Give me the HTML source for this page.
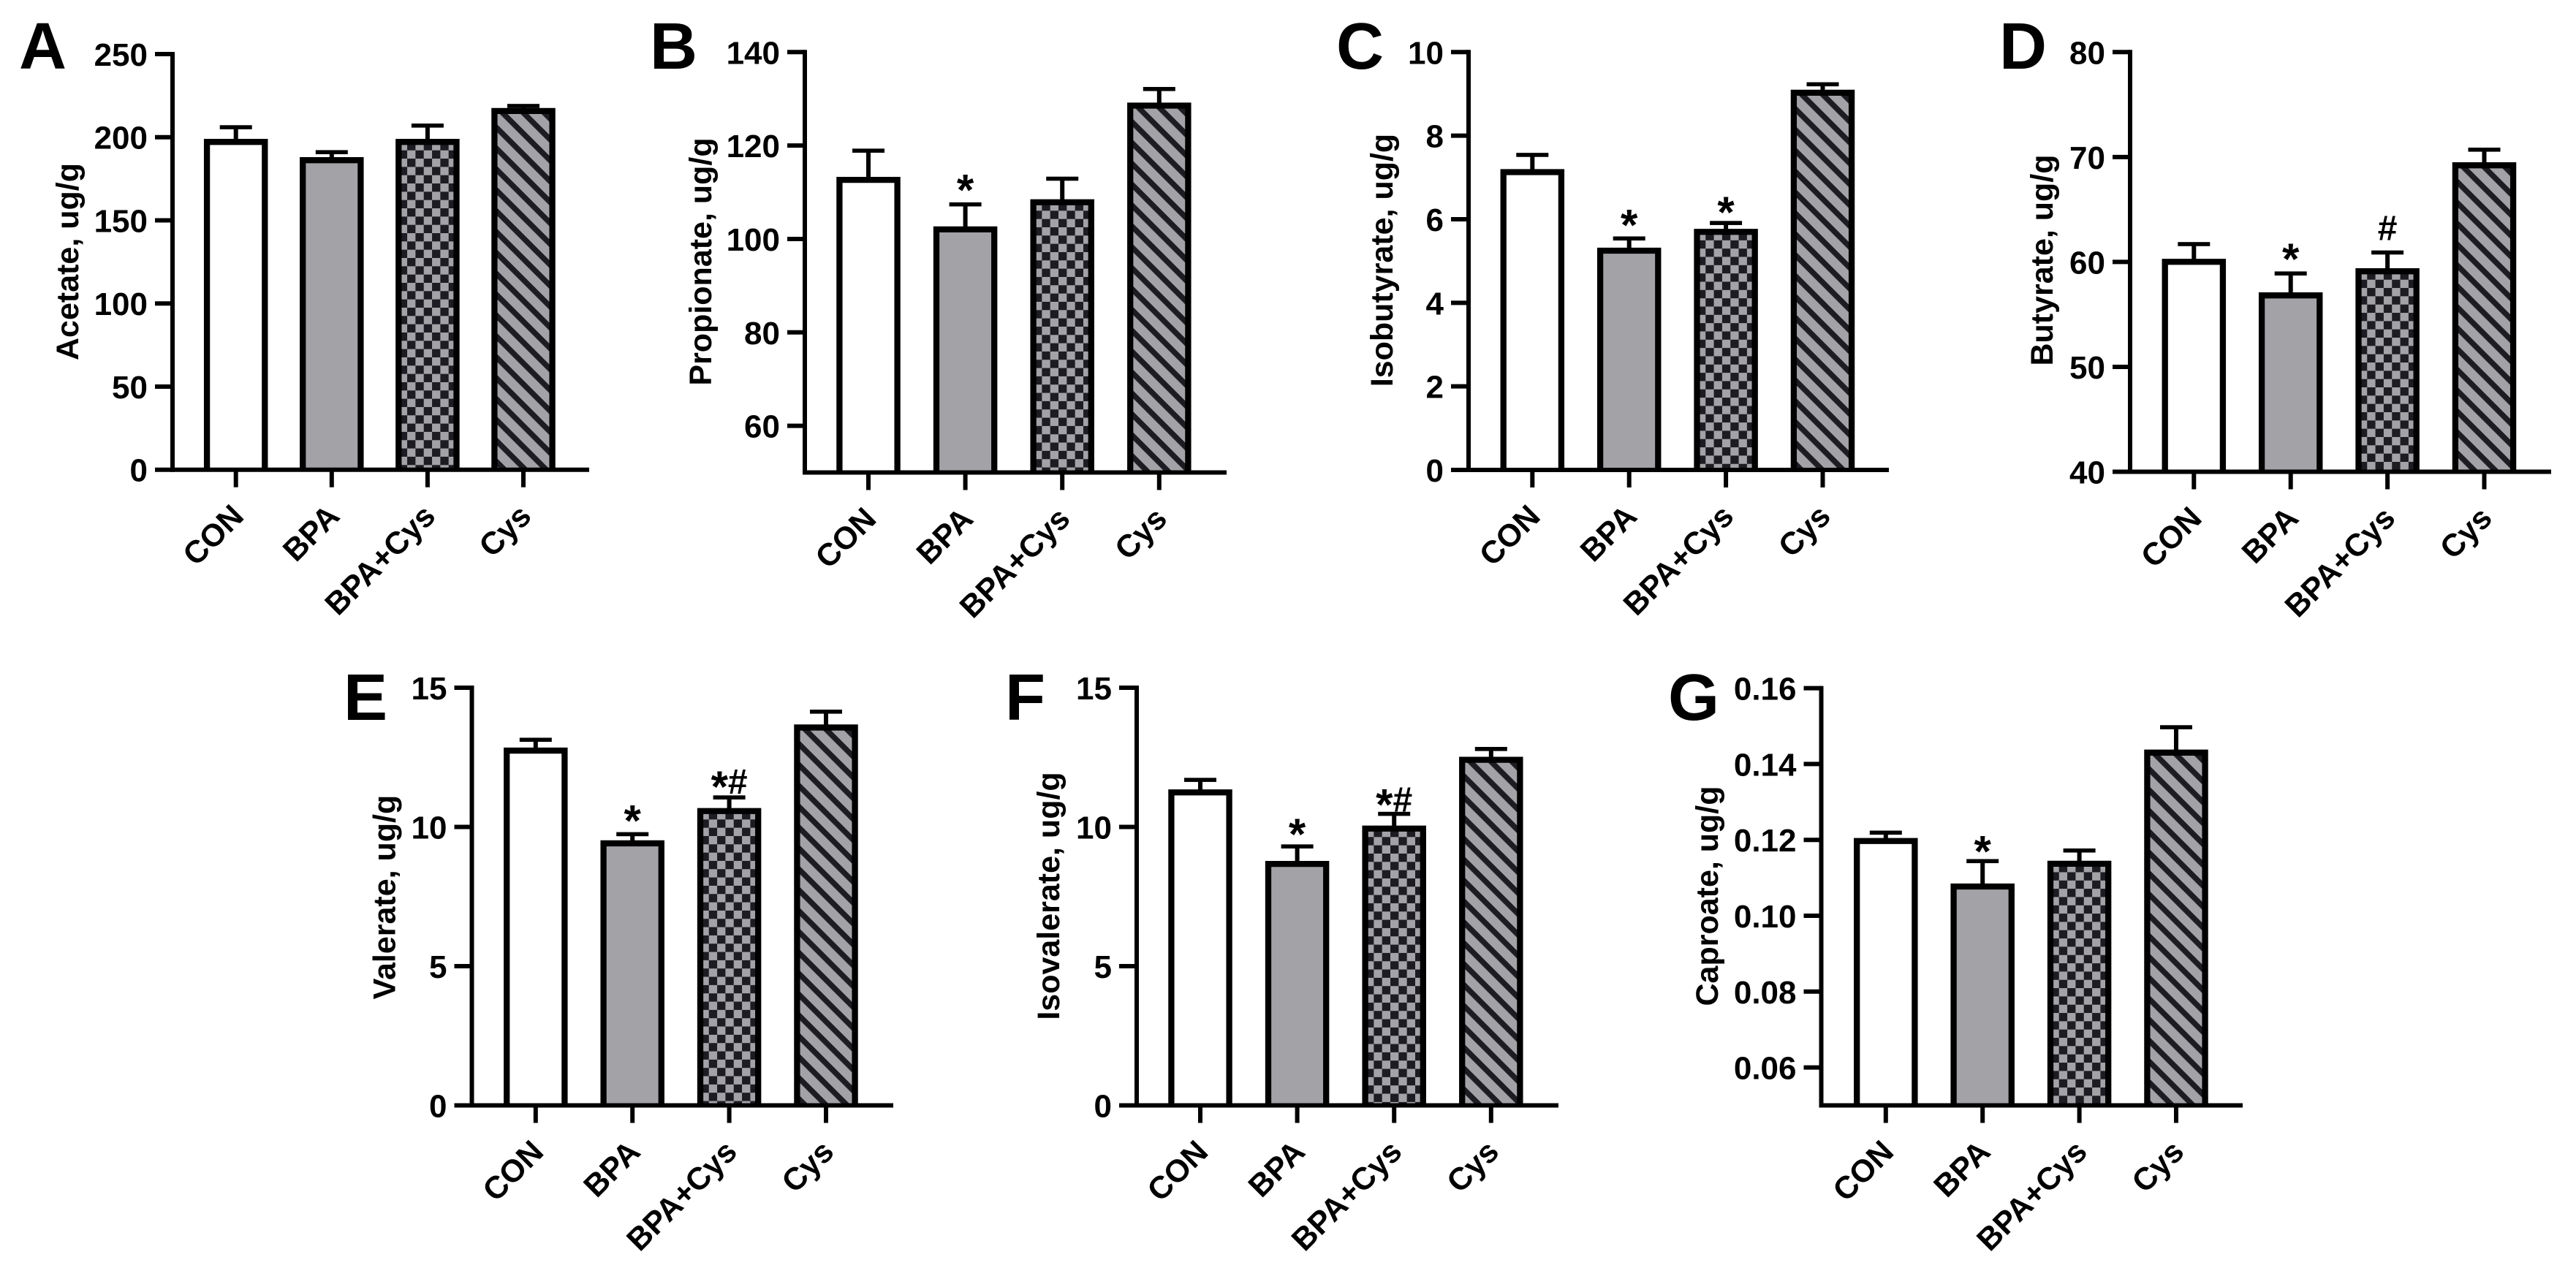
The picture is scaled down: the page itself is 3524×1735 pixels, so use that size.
<!DOCTYPE html>
<html lang="en">
<head>
<meta charset="utf-8">
<title>Short-chain fatty acid bar charts</title>
<style>
html,body{margin:0;padding:0;background:#fff;}
svg{display:block;}
text{font-family:"Liberation Sans",Arial,sans-serif;font-weight:bold;fill:#000;}
</style>
</head>
<body>
<svg id="figure" xmlns="http://www.w3.org/2000/svg" width="3524" height="1735" viewBox="0 0 3524 1735">
<rect x="0" y="0" width="3524" height="1735" fill="#ffffff"></rect>
</svg>
<script>
const categories = ['CON', 'BPA', 'BPA+Cys', 'Cys'];

const acetateMeans = [199, 188, 199, 217.6];
const acetateErrors = [7, 3, 8, 1.2];
const acetateTicks = ['0', '50', '100', '150', '200', '250'];
const acetateMarks = ['', '', '', ''];

const propionateMeans = [113.3, 102.7, 108.5, 129.2];
const propionateErrors = [5.6, 4.7, 4.4, 2.9];
const propionateTicks = ['60', '80', '100', '120', '140'];
const propionateMarks = ['', '*', '', ''];

const isobutyrateMeans = [7.2, 5.32, 5.77, 9.1];
const isobutyrateErrors = [0.34, 0.22, 0.14, 0.13];
const isobutyrateTicks = ['0', '2', '4', '6', '8', '10'];
const isobutyrateMarks = ['', '*', '*', ''];

const butyrateMeans = [60.3, 57.1, 59.4, 69.5];
const butyrateErrors = [1.4, 1.8, 1.5, 1.2];
const butyrateTicks = ['40', '50', '60', '70', '80'];
const butyrateMarks = ['', '*', '#', ''];

const valerateMeans = [12.85, 9.52, 10.68, 13.68];
const valerateErrors = [0.28, 0.22, 0.38, 0.46];
const valerateTicks = ['0', '5', '10', '15'];
const valerateMarks = ['', '*', '*#', ''];

const isovalerateMeans = [11.35, 8.78, 10.05, 12.52];
const isovalerateErrors = [0.34, 0.52, 0.42, 0.28];
const isovalerateTicks = ['0', '5', '10', '15'];
const isovalerateMarks = ['', '*', '*#', ''];

const caproateMeans = [0.1205, 0.1085, 0.1145, 0.1438];
const caproateErrors = [0.0014, 0.0059, 0.0027, 0.0059];
const caproateTicks = ['0.06', '0.08', '0.10', '0.12', '0.14', '0.16'];
const caproateMarks = ['', '*', '', ''];

const panels = [
  {id:'A', title:'Acetate, ug/g', means:acetateMeans, errors:acetateErrors, ticks:acetateTicks, marks:acetateMarks,
   min:0, max:250, axisX:236, baseY:642.7, topY:74, firstX:322.7, stepX:131.1, rightX:806,
   letterX:26, letterY:94, titleX:107, titleY:358, gaps:[0,0,0,0]},
  {id:'B', title:'Propionate, ug/g', means:propionateMeans, errors:propionateErrors, ticks:propionateTicks, marks:propionateMarks,
   min:50, max:140, axisX:1101, baseY:646.5, topY:71.3, firstX:1188, stepX:132.6, rightX:1678,
   letterX:889, letterY:94, titleX:973, titleY:358, gaps:[0,26,0,0]},
  {id:'C', title:'Isobutyrate, ug/g', means:isobutyrateMeans, errors:isobutyrateErrors, ticks:isobutyrateTicks, marks:isobutyrateMarks,
   min:0, max:10, axisX:2009, baseY:643, topY:71.3, firstX:2096.3, stepX:132.4, rightX:2584,
   letterX:1828, letterY:94, titleX:1905, titleY:356, gaps:[0,25,21,0]},
  {id:'D', title:'Butyrate, ug/g', means:butyrateMeans, errors:butyrateErrors, ticks:butyrateTicks, marks:butyrateMarks,
   min:40, max:80, axisX:2914, baseY:645.5, topY:71.3, firstX:3001.3, stepX:132.4, rightX:3490,
   letterX:2735, letterY:94, titleX:2808, titleY:356, gaps:[0,26,31,0]},
  {id:'E', title:'Valerate, ug/g', means:valerateMeans, errors:valerateErrors, ticks:valerateTicks, marks:valerateMarks,
   min:0, max:15, axisX:645.5, baseY:1512.5, topY:941, firstX:732.8, stepX:132.4, rightX:1222,
   letterX:470, letterY:985, titleX:540.5, titleY:1227.5, gaps:[0,25,21,0]},
  {id:'F', title:'Isovalerate, ug/g', means:isovalerateMeans, errors:isovalerateErrors, ticks:isovalerateTicks, marks:isovalerateMarks,
   min:0, max:15, axisX:1555, baseY:1512.5, topY:941, firstX:1642, stepX:132.6, rightX:2132,
   letterX:1375, letterY:985, titleX:1449, titleY:1226, gaps:[0,23,19,0]},
  {id:'G', title:'Caproate, ug/g', means:caproateMeans, errors:caproateErrors, ticks:caproateTicks, marks:caproateMarks,
   min:0.05, max:0.16, axisX:2491.5, baseY:1512.5, topY:941.6, firstX:2579.8, stepX:132.4, rightX:3068,
   letterX:2282, letterY:985, titleX:2350, titleY:1226, gaps:[0,20,0,0]}
];

const NS = 'http://www.w3.org/2000/svg';
const LIGHT = '#a3a2a7';
const DARK = '#1c1c22';
const CELL = 11.33;
const STRIPE_PERIOD = 20.2;
const STRIPE_DARK = 7.6;
const BAR_WIDTH = 79.2;
const BAR_STROKE = 8.3;
const AXIS_WIDTH = 6;
const TICK_LENGTH = 24;
const CAP_WIDTH = 44;
const CAP_HEIGHT = 5.6;

const root = document.getElementById('figure');
const defs = document.createElementNS(NS, 'defs');
root.appendChild(defs);

function mk(tag, parent, attrs) {
  const el = document.createElementNS(NS, tag);
  for (const k in attrs) el.setAttribute(k, attrs[k]);
  parent.appendChild(el);
  return el;
}

function checkerPattern(id, originX, originY) {
  const p = mk('pattern', defs, {id: id, patternUnits: 'userSpaceOnUse', width: CELL * 2, height: CELL * 2,
    patternTransform: 'translate(' + originX + ' ' + originY + ')'});
  mk('rect', p, {x: 0, y: 0, width: CELL * 2, height: CELL * 2, fill: LIGHT});
  mk('rect', p, {x: CELL, y: 0, width: CELL, height: CELL, fill: DARK});
  mk('rect', p, {x: 0, y: CELL, width: CELL, height: CELL, fill: DARK});
}

function stripePattern(id, originX, originY) {
  const p = mk('pattern', defs, {id: id, patternUnits: 'userSpaceOnUse', width: STRIPE_PERIOD, height: STRIPE_PERIOD,
    patternTransform: 'translate(' + originX + ' ' + originY + ') rotate(45) translate(0 ' + (-STRIPE_DARK / 2) + ')'});
  mk('rect', p, {x: 0, y: 0, width: STRIPE_PERIOD, height: STRIPE_PERIOD, fill: LIGHT});
  mk('rect', p, {x: 0, y: 0, width: STRIPE_PERIOD, height: STRIPE_DARK, fill: DARK});
}

panels.forEach(function (panel) {
  const key = panel.id.toLowerCase();
  const yScale = function (v) {
    return panel.baseY - (v - panel.min) / (panel.max - panel.min) * (panel.baseY - panel.topY);
  };
  const xScale = function (i) {
    return panel.firstX + i * panel.stepX;
  };

  const g = mk('g', root, {});
  
  

  const letter = mk('text', g, {x: panel.letterX, y: panel.letterY, 'font-size': 90});
  letter.textContent = panel.id;
  
  

  panel.means.forEach(function (mean, i) {
    const cx = xScale(i);
    const topEdge = yScale(mean);
    const strokeTop = topEdge + BAR_STROKE / 2;
    const innerL = cx - BAR_WIDTH / 2 + BAR_STROKE / 2;
    const innerT = topEdge + BAR_STROKE;
    let fill = '#ffffff';
    if (i === 1) fill = LIGHT;
    if (i === 2) {
      const cid = 'checker-' + key;
      checkerPattern(cid, innerL + 7.6, innerT + 7.4);
      fill = 'url(#' + cid + ')';
    }
    if (i === 3) {
      const sid = 'stripes-' + key;
      stripePattern(sid, innerL, innerT + 20);
      fill = 'url(#' + sid + ')';
    }

    const errTop = yScale(mean + panel.errors[i]);

    const errorLine = mk('line', g, {x1: cx, x2: cx, y1: strokeTop, y2: errTop, stroke: '#000', 'stroke-width': AXIS_WIDTH});
    
    

    const errorCap = mk('rect', g, {x: cx - CAP_WIDTH / 2, y: errTop - CAP_HEIGHT / 2, width: CAP_WIDTH, height: CAP_HEIGHT, fill: '#000'});
    
    

    const left = cx - BAR_WIDTH / 2;
    const right = cx + BAR_WIDTH / 2;
    const bar = mk('path', g, {
      d: 'M' + left + ' ' + panel.baseY + 'V' + strokeTop + 'H' + right + 'V' + panel.baseY,
      fill: fill, stroke: '#000', 'stroke-width': BAR_STROKE
    });
    
    

    const mark = panel.marks[i];
    if (mark) {
      const center = errTop - panel.gaps[i];
      const starBase = center + 27;
      const hashBase = center + 14;
      const t = mk('text', g, {x: cx, y: mark === '#' ? hashBase : starBase, 'text-anchor': 'middle'});
      
      
      mark.split('').forEach(function (ch) {
        const sp = mk('tspan', t, {'font-size': ch === '#' ? 48 : 60});
        if (ch === '#' && mark.length > 1) sp.setAttribute('dy', -11);
        sp.textContent = ch;
      });
    }

    const tick = mk('line', g, {x1: cx, x2: cx, y1: panel.baseY, y2: panel.baseY + TICK_LENGTH, stroke: '#000', 'stroke-width': AXIS_WIDTH});
    
    

    const lx = cx + 13;
    const ly = panel.baseY + 66;
    const label = mk('text', g, {x: lx, y: ly, 'text-anchor': 'end', 'font-size': 43,
      transform: 'rotate(-45 ' + lx + ' ' + ly + ')'});
    label.textContent = categories[i];
    
    
  });

  panel.ticks.forEach(function (tickText) {
    const ty = yScale(parseFloat(tickText));
    const tick = mk('line', g, {x1: panel.axisX - TICK_LENGTH, x2: panel.axisX, y1: ty, y2: ty, stroke: '#000', 'stroke-width': AXIS_WIDTH});
    
    

    const label = mk('text', g, {x: panel.axisX - TICK_LENGTH - 10, y: ty + 16, 'text-anchor': 'end', 'font-size': 44});
    label.textContent = tickText;
    
    
  });

  const yAxis = mk('line', g, {x1: panel.axisX, x2: panel.axisX, y1: panel.topY - AXIS_WIDTH / 2, y2: panel.baseY + AXIS_WIDTH / 2, stroke: '#000', 'stroke-width': AXIS_WIDTH});
  
  

  const xAxis = mk('line', g, {x1: panel.axisX, x2: panel.rightX, y1: panel.baseY, y2: panel.baseY, stroke: '#000', 'stroke-width': AXIS_WIDTH});
  
  

  const title = mk('text', g, {x: panel.titleX, y: panel.titleY, 'text-anchor': 'middle', 'font-size': 43,
    transform: 'rotate(-90 ' + panel.titleX + ' ' + panel.titleY + ')'});
  title.textContent = panel.title;
  
  
});
</script>
</body>
</html>
